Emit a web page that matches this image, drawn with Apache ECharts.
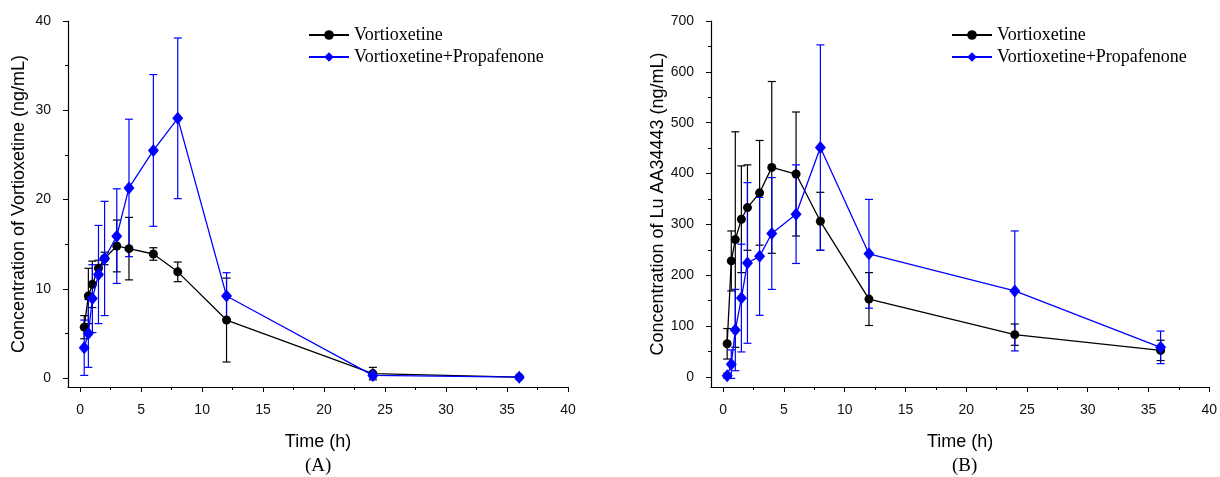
<!DOCTYPE html>
<html><head><meta charset="utf-8">
<script src="https://cdn.jsdelivr.net/npm/echarts@6/dist/echarts.min.js"></script>
<style>html,body{margin:0;padding:0;background:#fff}#c{width:1220px;height:477px}</style>
</head><body><div id="c"></div>
<script>
const times = [0.33, 0.67, 1, 1.5, 2, 3, 4, 6, 8, 12, 24, 36];
const vortA = [5.7, 9.2, 10.5, 12.3, 13.4, 14.8, 14.5, 13.9, 11.9, 6.5, 0.5, 0.1];
const vortA_sd = [1.3, 3.1, 2.6, 0.9, 0.7, 2.9, 3.5, 0.7, 1.1, 4.7, 0.7, 0.1];
const propA = [3.4, 5.0, 8.9, 11.6, 13.4, 15.9, 21.3, 25.5, 29.1, 9.2, 0.3, 0.1];
const propA_sd = [3.1, 3.8, 3.8, 5.5, 6.4, 5.3, 7.7, 8.5, 9.0, 2.6, 0.3, 0.1];
const vortB = [65, 228, 270, 310, 333, 362, 412, 399, 306, 153, 83, 52];
const vortB_sd = [30, 59, 212, 105, 84, 103, 169, 122, 57, 52, 21, 20];
const propB = [2, 25, 92, 155, 224, 237, 282, 320, 451, 242, 169, 58];
const propB_sd = [5, 28, 80, 106, 158, 116, 110, 97, 202, 107, 118, 32];
const xTicks = [0, 5, 10, 15, 20, 25, 30, 35, 40];
const xMinor = [2.5, 7.5, 12.5, 17.5, 22.5, 27.5, 32.5, 37.5];
const yTicksA = [0, 10, 20, 30, 40];
const yMinorA = [5, 15, 25, 35];
const yTicksB = [0, 100, 200, 300, 400, 500, 600, 700];
const yMinorB = [50, 150, 250, 350, 450, 550, 650];
const seriesNames = ['Vortioxetine', 'Vortioxetine+Propafenone'];
const yTitles = ['Concentration of Vortioxetine (ng/mL)', 'Concentration of Lu AA34443 (ng/mL)'];
const panelLabels = ['(A)', '(B)'];

const SANS = 'Liberation Sans, Arial, sans-serif';
const SERIF = 'Liberation Serif, Times New Roman, serif';

function xAxes(g) {
  return [
    { gridIndex: g, type: 'value', min: -1, max: 40, position: 'bottom',
      name: 'Time (h)', nameLocation: 'middle', nameGap: 46,
      nameTextStyle: { fontFamily: SANS, fontSize: 18, color: '#000' },
      axisLine: { onZero: false, lineStyle: { color: '#000', width: 1.2 } },
      axisTick: { show: true, length: 5, customValues: xTicks, lineStyle: { color: '#000' } },
      axisLabel: { customValues: xTicks, margin: 16, fontFamily: SANS, fontSize: 14, color: '#111' },
      splitLine: { show: false } },
    { gridIndex: g, type: 'value', min: -1, max: 40, position: 'bottom',
      axisLine: { show: false, onZero: false },
      axisTick: { show: true, length: 3, customValues: xMinor, lineStyle: { color: '#000' } },
      axisLabel: { show: false }, splitLine: { show: false } }
  ];
}
function yAxes(g, min, max, ticks, minor, title) {
  return [
    { gridIndex: g, type: 'value', min: min, max: max, position: 'left',
      name: title, nameLocation: 'middle', nameGap: 40,
      nameTextStyle: { fontFamily: SANS, fontSize: 18, color: '#000' },
      axisLine: { show: true, onZero: false, lineStyle: { color: '#000', width: 1.2 } },
      axisTick: { show: true, length: 5, customValues: ticks, lineStyle: { color: '#000' } },
      axisLabel: { customValues: ticks, margin: 17, fontFamily: SANS, fontSize: 14, color: '#111' },
      splitLine: { show: false } },
    { gridIndex: g, type: 'value', min: min, max: max, position: 'left',
      axisLine: { show: false, onZero: false },
      axisTick: { show: true, length: 3, customValues: minor, lineStyle: { color: '#000' } },
      axisLabel: { show: false }, splitLine: { show: false } }
  ];
}
function errSeries(ai, vals, sds, color) {
  return {
    type: 'custom', xAxisIndex: ai, yAxisIndex: ai, silent: true, z: 1, clip: false,
    encode: { x: 0, y: [1, 2] },
    data: times.map((t, i) => [t, vals[i] - sds[i], vals[i] + sds[i]]),
    renderItem: function (params, api) {
      const lo = api.coord([api.value(0), api.value(1)]);
      const hi = api.coord([api.value(0), api.value(2)]);
      const w = 4;
      const style = { stroke: color, lineWidth: 1.2 };
      return { type: 'group', children: [
        { type: 'line', shape: { x1: lo[0], y1: lo[1], x2: hi[0], y2: hi[1] }, style: style },
        { type: 'line', shape: { x1: lo[0] - w, y1: lo[1], x2: lo[0] + w, y2: lo[1] }, style: style },
        { type: 'line', shape: { x1: hi[0] - w, y1: hi[1], x2: hi[0] + w, y2: hi[1] }, style: style }
      ] };
    }
  };
}
function lineSeries(ai, name, vals, color, symbol, size, z) {
  return {
    type: 'line', name: name, xAxisIndex: ai, yAxisIndex: ai, z: z,
    data: times.map((t, i) => [t, vals[i]]),
    symbol: symbol, symbolSize: size, showAllSymbol: true,
    itemStyle: { color: color, opacity: 1 },
    lineStyle: { color: color, width: 1.3 },
    emphasis: { disabled: true }
  };
}
function legend(left) {
  return {
    left: left, top: 21, orient: 'vertical', itemWidth: 40, itemHeight: 12, itemGap: 4,
    data: seriesNames,
    textStyle: { fontFamily: SERIF, fontSize: 18, color: '#000', lineHeight: 16 }
  };
}

const chart = echarts.init(document.getElementById('c'), null, { renderer: 'canvas' });
chart.setOption({
  animation: false,
  backgroundColor: '#fff',
  grid: [
    { left: 68, right: 652, top: 21, bottom: 90 },
    { left: 711, right: 10, top: 21, bottom: 90 }
  ],
  xAxis: [].concat(xAxes(0), xAxes(1)),
  yAxis: [].concat(yAxes(0, -1, 40, yTicksA, yMinorA, yTitles[0]), yAxes(1, -20, 700, yTicksB, yMinorB, yTitles[1])),
  legend: [legend(303), legend(946)],
  series: [
    errSeries(0, vortA, vortA_sd, '#000'),
    errSeries(0, propA, propA_sd, '#0000ff'),
    lineSeries(0, seriesNames[0], vortA, '#000', 'circle', 9, 3),
    lineSeries(0, seriesNames[1], propA, '#0000ff', 'diamond', [11, 13], 4),
    errSeries(2, vortB, vortB_sd, '#000'),
    errSeries(2, propB, propB_sd, '#0000ff'),
    lineSeries(2, seriesNames[0], vortB, '#000', 'circle', 9, 3),
    lineSeries(2, seriesNames[1], propB, '#0000ff', 'diamond', [11, 13], 4)
  ],
  graphic: [
    { type: 'text', left: 305, top: 457, style: { text: panelLabels[0], font: '19px ' + SERIF, fill: '#000' } },
    { type: 'text', left: 952, top: 457, style: { text: panelLabels[1], font: '19px ' + SERIF, fill: '#000' } }
  ]
});
</script>
</body></html>
